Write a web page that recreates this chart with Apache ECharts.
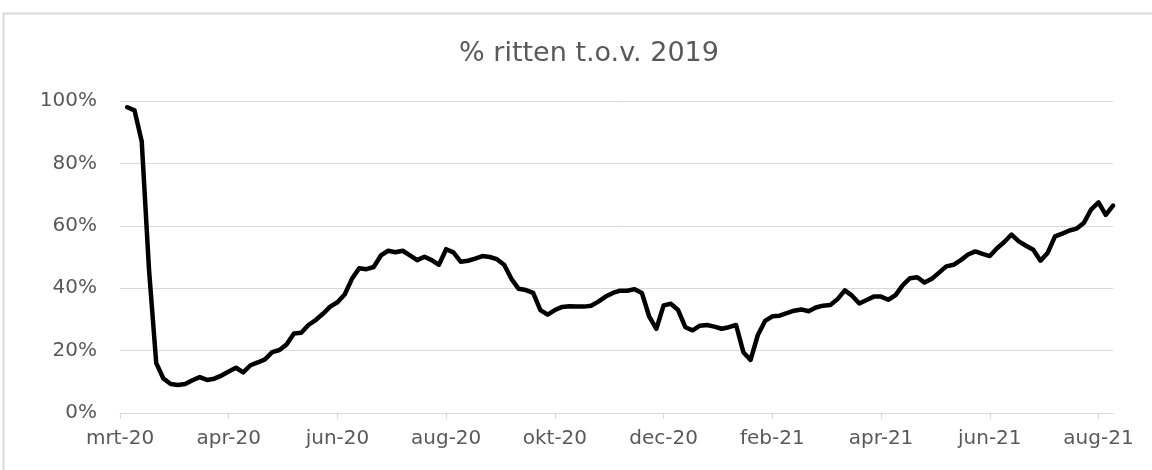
<!DOCTYPE html>
<html>
<head>
<meta charset="utf-8">
<script src="https://cdn.jsdelivr.net/npm/echarts@6/dist/echarts.min.js"></script>
<style>
html,body{margin:0;padding:0;background:#fff;}
#chart{width:1152px;height:470px;}
</style>
</head>
<body>
<div id="chart"></div>
<script>
const titleText = '% ritten t.o.v. 2019';
const tickLabels = ['mrt-20','apr-20','jun-20','aug-20','okt-20','dec-20','feb-21','apr-21','jun-21','aug-21'];
const pointsPerTick = 15;
const yTicks = [0, 20, 40, 60, 80, 100];
const values = [
  '-', 98, 97, 87, 46, 16, 11, 9.3, 9, 9.3,
  10.5, 11.5, 10.6, 11, 12, 13.3, 14.5, 13, 15.3, 16.2,
  17.2, 19.5, 20.2, 22, 25.5, 25.7, 28.2, 29.8, 31.8, 34.1,
  35.5, 38, 43, 46.4, 46.1, 46.8, 50.5, 52, 51.5, 52,
  50.5, 49, 50.1, 49, 47.5, 52.5, 51.5, 48.5, 48.8, 49.5,
  50.3, 50, 49.3, 47.5, 43, 39.8, 39.4, 38.5, 33, 31.5,
  33, 34, 34.2, 34.1, 34.1, 34.4, 35.7, 37.3, 38.5, 39.2,
  39.2, 39.7, 38.5, 31, 27, 34.5, 35, 33, 27.5, 26.5,
  28, 28.2, 27.7, 27, 27.5, 28.2, 19.5, 17, 25, 29.5,
  31, 31.2, 32, 32.8, 33.2, 32.6, 33.8, 34.4, 34.6, 36.5,
  39.3, 37.6, 35.1, 36.2, 37.3, 37.3, 36.3, 37.8, 41, 43.2,
  43.5, 41.8, 43, 45, 47, 47.5, 49, 50.8, 51.8, 51,
  50.3, 52.8, 54.8, 57.2, 55, 53.6, 52.3, 48.8, 51.4, 56.6,
  57.5, 58.5, 59.1, 61, 65.3, 67.5, 63.5, 66.5
];

const categories = values.map((v, i) => (i % pointsPerTick === 0 && tickLabels[i / pointsPerTick]) ? tickLabels[i / pointsPerTick] : '');
const isTick = (i) => i % pointsPerTick === 0;

const chart = echarts.init(document.getElementById('chart'), null, {renderer: 'canvas'});
const textColor = '#595959';
const font = 'DejaVu Sans, Verdana, sans-serif';
chart.setOption({
  animation: false,
  backgroundColor: '#ffffff',
  graphic: [{
    type: 'rect',
    shape: {x: 3.5, y: 13.5, width: 1200, height: 500},
    style: {fill: 'none', stroke: '#d9d9d9', lineWidth: 2},
    silent: true
  }],
  title: {
    text: titleText,
    left: 584,
    top: 35,
    textAlign: 'center',
    textStyle: {color: textColor, fontSize: 27, fontWeight: 'normal', fontFamily: font}
  },
  grid: {left: 120, right: 39, top: 101, bottom: 57, containLabel: false},
  xAxis: {
    type: 'category',
    data: categories,
    boundaryGap: false,
    axisLine: {show: true, lineStyle: {color: '#d9d9d9', width: 1}},
    axisTick: {show: true, interval: isTick, length: 6, lineStyle: {color: '#d9d9d9'}},
    axisLabel: {
      interval: isTick,
      color: textColor, fontSize: 20, fontFamily: font, margin: 16,
      hideOverlap: false
    },
    splitLine: {show: false}
  },
  yAxis: {
    type: 'value',
    min: yTicks[0],
    max: yTicks[yTicks.length - 1],
    interval: yTicks[1] - yTicks[0],
    axisLine: {show: false},
    axisTick: {show: false},
    axisLabel: {formatter: '{value}%', color: textColor, fontSize: 20, fontFamily: font, margin: 23},
    splitLine: {show: true, lineStyle: {color: '#d9d9d9', width: 1}}
  },
  series: [{
    type: 'line',
    data: values,
    showSymbol: false,
    symbol: 'none',
    connectNulls: false,
    lineStyle: {color: '#000000', width: 4.5, join: 'round', cap: 'round'},
    emphasis: {disabled: true}
  }]
});
</script>
</body>
</html>
